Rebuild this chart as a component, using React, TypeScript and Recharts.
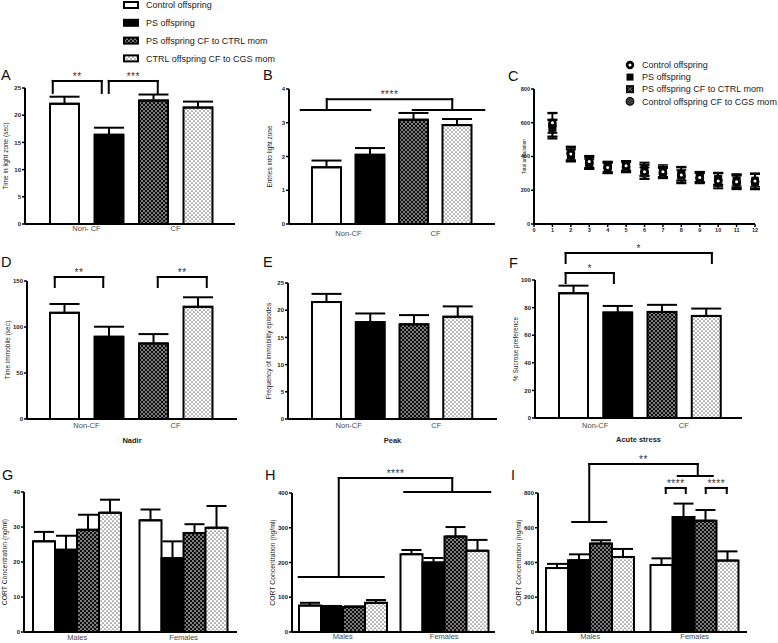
import React from 'react';
import { BarChart, Bar, Cell, XAxis, YAxis, ErrorBar, ReferenceLine, ScatterChart, Scatter } from 'recharts';

const FONT = '"Liberation Sans", Arial, Helvetica, sans-serif';

const GROUPS = ['Control offspring', 'PS offspring', 'PS offspring CF to CTRL mom', 'CTRL offspring CF to CGS mom'];
const C_GROUPS = ['Control offspring', 'PS offspring', 'PS offspring CF to CTRL mom', 'Control offspring CF to CGS mom'];
const BAR_IDS = ['ctrl', 'ps', 'psCf', 'ctrlCf'];
const FILLS = ['#ffffff', '#000000', 'url(#patDark)', 'url(#patLight)'];
const CONDITION = ['Non-CF', 'Non-CF', 'CF', 'CF'];
const CONDITION_A = ['Non- CF', 'Non- CF', 'CF', 'CF'];
const SEXES = ['Males', 'Females'];

// A - light/dark box, time in light zone
const lightTime = [22.1, 16.4, 22.7, 21.4];
const lightTimeErr = [1.3, 1.3, 1.1, 1.1];
// B - entries into light zone
const lightEntries = [1.68, 2.05, 3.09, 2.93];
const lightEntriesErr = [0.2, 0.2, 0.2, 0.18];
// C - total ambulation per time bin
const BINS = [1, 2, 3, 4, 5, 6, 7, 8, 9, 10, 11, 12];
const BIN_TICKS = [0, 1, 2, 3, 4, 5, 6, 7, 8, 9, 10, 11, 12];
const ambCtrl = [600, 415, 370, 335, 345, 310, 310, 290, 275, 255, 250, 255];
const ambCtrlErr = [60, 40, 35, 30, 28, 40, 30, 45, 30, 45, 40, 45];
const ambPs = [570, 405, 355, 330, 340, 320, 305, 300, 280, 270, 260, 260];
const ambPsErr = [50, 35, 30, 30, 30, 35, 30, 40, 30, 35, 35, 40];
const ambPsCf = [560, 410, 365, 340, 345, 325, 315, 295, 280, 265, 255, 250];
const ambPsCfErr = [55, 40, 35, 30, 30, 40, 35, 40, 30, 35, 40, 45];
const ambCtrlCf = [585, 420, 360, 335, 335, 300, 300, 280, 270, 260, 245, 250];
const ambCtrlCfErr = [70, 40, 35, 35, 30, 35, 30, 40, 30, 40, 40, 45];
// D - forced swim, time immobile
const timeImmobile = [115.4, 89.4, 82.2, 121.9];
const timeImmobileErr = [9.6, 10.9, 10.1, 10.4];
// E - frequency of immobility episodes
const immobilityEpisodes = [21.5, 17.8, 17.4, 18.8];
const immobilityEpisodesErr = [1.5, 1.6, 1.7, 1.9];
// F - sucrose preference
const sucrosePref = [90.4, 76.4, 76.9, 74.0];
const sucrosePrefErr = [5.5, 4.8, 5.1, 5.3];
// G - CORT nadir
const nadirMales = [25.9, 23.5, 29.2, 34.1];
const nadirMalesErr = [2.7, 4.0, 4.3, 3.7];
const nadirFemales = [31.9, 21.1, 28.3, 29.8];
const nadirFemalesErr = [3.1, 4.8, 2.5, 6.2];
// H - CORT peak
const peakMales = [76, 72, 72, 84];
const peakMalesErr = [8, 3, 2, 8];
const peakFemales = [224, 200, 275, 234];
const peakFemalesErr = [12, 13, 27, 31];
// I - CORT acute stress
const acuteMales = [368, 413, 509, 432];
const acuteMalesErr = [24, 34, 19, 46];
const acuteFemales = [386, 662, 641, 411];
const acuteFemalesErr = [38, 77, 61, 53];

const AXIS_LINE = { stroke: '#000', strokeWidth: 2 };
const TICK_LINE = { stroke: '#000', strokeWidth: 1.5 };
const NUM_TICK = { fontSize: 6, fontWeight: 700, fill: '#222', stroke: 'none', fontFamily: FONT };
const CAT_TICK = { fontSize: 7.5, fill: '#4a4a4a', stroke: 'none', fontFamily: FONT };
const YW = 40;
const MR = 6;
const SUB_Y = 451;

type Box = { x0: number; y0: number; x1: number; y1: number };
const frame = (b: Box, top: number, bottom: number) => {
  const left = b.x0 - YW;
  const t = b.y0 - top;
  return { left, top: t, width: b.x1 + MR - left, height: b.y1 + bottom - t };
};

const YText = ({ x, y, value, size = 6.5 }: any) => (
  <text x={x} y={y} transform={`rotate(-90 ${x} ${y})`} textAnchor="middle" dominantBaseline="central"
    fontSize={size} fontFamily={FONT} fill="#222">{value}</text>
);
const SubText = ({ x, y, value }: any) => (
  <text x={x} y={y} textAnchor="middle" fontSize={7.5} fontWeight={700} fontFamily={FONT} fill="#222">{value}</text>
);

type End = [string, number, number];
const seg = (key: string, a: End, b: End) => (
  <ReferenceLine key={key} ifOverflow="visible" segment={[{ x: a[0], y: a[1] }, { x: b[0], y: b[1] }]}
    shape={(p: any) => <line x1={p.x1 + a[2]} y1={p.y1} x2={p.x2 + b[2]} y2={p.y2} stroke="#000" strokeWidth={2} strokeLinecap="square" />} />
);
const note = (key: string, a: End, b: End, text: string) => (
  <ReferenceLine key={key} ifOverflow="visible" segment={[{ x: a[0], y: a[1] }, { x: b[0], y: b[1] }]}
    shape={(p: any) => (
      <text x={(p.x1 + a[2] + p.x2 + b[2]) / 2} y={p.y1 - 1} textAnchor="middle" fontSize={10}
        letterSpacing={0.5} fill="#333" fontFamily={FONT}>{text}</text>
    )} />
);
// a[1], b[1] = foot levels, top = bracket level
const bracket = (key: string, a: End, b: End, top: number, text: string) => [
  seg(key + 'l', a, [a[0], top, a[2]]),
  seg(key + 'r', b, [b[0], top, b[2]]),
  seg(key + 't', [a[0], top, a[2]], [b[0], top, b[2]]),
  note(key + 's', [a[0], top, a[2]], [b[0], top, b[2]], text),
];

function CondPanel({ box, vals, errs, cond = CONDITION, max, ticks, pad, yLabel, yLabelX, gap, sub, subDx = 0, children }: any) {
  const MT = 52;
  const XH1 = 2;
  const XH2 = sub ? 44 : 22;
  const f = frame(box, MT, XH1 + XH2);
  const rows = vals.map((v: number, i: number) => ({ id: BAR_IDS[i], cond: cond[i], v, e: [0, errs[i]] }));
  return (
    <div style={{ position: 'absolute', left: f.left, top: f.top }}>
      <BarChart width={f.width} height={f.height} data={rows} margin={{ top: MT, right: MR, left: 0, bottom: 0 }}>
        <XAxis dataKey="id" height={XH1} tick={false} tickLine={false} axisLine={AXIS_LINE} padding={pad} />
        <XAxis xAxisId="g" dataKey="cond" allowDuplicatedCategory={false} height={XH2} axisLine={false}
          tickLine={false} tickSize={0} tickMargin={gap} tick={CAT_TICK} padding={pad}
          label={sub ? <SubText x={(box.x0 + box.x1) / 2 + subDx - f.left} y={SUB_Y - f.top} value={sub} /> : undefined} />
        <YAxis width={YW} domain={[0, max]} ticks={ticks} interval={0} axisLine={AXIS_LINE} tickLine={TICK_LINE}
          tickSize={3} tickMargin={1} tick={NUM_TICK}
          label={<YText x={yLabelX - f.left} y={(box.y0 + box.y1) / 2 - f.top} value={yLabel} />} />
        <Bar dataKey="v" barSize={29} stroke="#000" strokeWidth={2} isAnimationActive={false}>
          {rows.map((r: any, i: number) => <Cell key={r.id} fill={FILLS[i]} />)}
          <ErrorBar dataKey="e" width={15} stroke="#000" strokeWidth={2} isAnimationActive={false} />
        </Bar>
        {children}
      </BarChart>
    </div>
  );
}

const sexRows = (m: number[], me: number[], fv: number[], fe: number[]) =>
  [[m, me], [fv, fe]].map(([v, e], s) => {
    const row: any = { sex: SEXES[s] };
    BAR_IDS.forEach((k, i) => { row[k] = v[i]; row[k + 'E'] = [0, e[i]]; });
    return row;
  });

function SexPanel({ box, rows, max, ticks, yLabel, yLabelX, gap, children }: any) {
  const MT = 44;
  const XH = 20;
  const f = frame(box, MT, XH);
  return (
    <div style={{ position: 'absolute', left: f.left, top: f.top }}>
      <BarChart width={f.width} height={f.height} data={rows} barGap={0} margin={{ top: MT, right: MR, left: 0, bottom: 0 }}>
        <XAxis dataKey="sex" height={XH} axisLine={AXIS_LINE} tickLine={false} tickSize={0} tickMargin={gap} tick={CAT_TICK} />
        <YAxis width={YW} domain={[0, max]} ticks={ticks} interval={0} axisLine={AXIS_LINE} tickLine={TICK_LINE}
          tickSize={3} tickMargin={1} tick={NUM_TICK}
          label={<YText x={yLabelX - f.left} y={(box.y0 + box.y1) / 2 - f.top} value={yLabel} size={6.8} />} />
        {BAR_IDS.map((k, i) => (
          <Bar key={k} dataKey={k} barSize={22} fill={FILLS[i]} stroke="#000" strokeWidth={2} isAnimationActive={false}>
            <ErrorBar dataKey={k + 'E'} width={10} stroke="#000" strokeWidth={2} isAnimationActive={false} />
          </Bar>
        ))}
        {children}
      </BarChart>
    </div>
  );
}

const markCtrl = (p: any) => (
  <g><circle cx={p.cx} cy={p.cy} r={4.2} fill="#000" /><circle cx={p.cx} cy={p.cy} r={1.5} fill="#fff" /></g>
);
const markPs = (p: any) => <rect x={p.cx - 3.5} y={p.cy - 3.5} width={7} height={7} fill="#000" />;
const markPsCf = (p: any) => (
  <g>
    <rect x={p.cx - 3.5} y={p.cy - 3.5} width={7} height={7} fill="#111" stroke="#000" strokeWidth={1} />
    <path d={`M${p.cx - 2},${p.cy - 2}L${p.cx + 2},${p.cy + 2}M${p.cx + 2},${p.cy - 2}L${p.cx - 2},${p.cy + 2}`} stroke="#888" strokeWidth={0.8} />
  </g>
);
const markCtrlCf = (p: any) => <circle cx={p.cx} cy={p.cy} r={3.8} fill="#3a3a3a" stroke="#000" strokeWidth={1.2} />;
const MARKS = [markCtrl, markPs, markPsCf, markCtrlCf];

const ambSeries = [
  [ambCtrl, ambCtrlErr],
  [ambPs, ambPsErr],
  [ambPsCf, ambPsCfErr],
  [ambCtrlCf, ambCtrlCfErr],
].map(([v, e]) => BINS.map((x, i) => ({ x, y: v[i], e: e[i] })));
// drawn back to front so the solid markers end up on top
const DRAW_ORDER = [3, 2, 1, 0];

function AmbulationPanel() {
  const box = { x0: 534, y0: 89, x1: 755, y1: 224 };
  const W0 = 20;
  const MT = 10;
  const XH = 14;
  const left = box.x0 - W0;
  const top = box.y0 - MT;
  const width = box.x1 + 10 - left;
  const height = box.y1 + XH - top;
  const small = { fontSize: 5.5, fontWeight: 700, fill: '#222', stroke: 'none', fontFamily: FONT };
  return (
    <div style={{ position: 'absolute', left, top }}>
      <ScatterChart width={width} height={height} margin={{ top: MT, right: 10, left: 0, bottom: 0 }}>
        <XAxis type="number" dataKey="x" domain={[0, 12]} ticks={BIN_TICKS} interval={0} height={XH}
          axisLine={AXIS_LINE} tickLine={TICK_LINE} tickSize={3} tickMargin={1} tick={small} />
        <YAxis type="number" dataKey="y" domain={[0, 800]} ticks={[0, 200, 400, 600, 800]} interval={0} width={W0}
          axisLine={AXIS_LINE} tickLine={TICK_LINE} tickSize={3} tickMargin={1} tick={small}
          label={<YText x={517 - left} y={(box.y0 + box.y1) / 2 - top - 6} value="Total ambulation" size={4.8} />} />
        {DRAW_ORDER.map((i) => (
          <Scatter key={BAR_IDS[i]} data={ambSeries[i]} shape={MARKS[i]} isAnimationActive={false}>
            <ErrorBar dataKey="e" direction="y" width={5} stroke="#000" strokeWidth={1.5} isAnimationActive={false} />
          </Scatter>
        ))}
      </ScatterChart>
    </div>
  );
}

const LETTERS: [string, number, number][] = [
  ['A', 1, 80], ['B', 263, 80], ['C', 508, 81],
  ['D', 1, 267], ['E', 263, 267], ['F', 509, 268],
  ['G', 2, 480], ['H', 265, 480], ['I', 511, 480],
];

export default function App() {
  return (
    <div style={{ position: 'absolute', left: 0, top: 0, width: 778, height: 643, overflow: 'hidden', background: '#fff', fontFamily: FONT }}>
      <svg width={0} height={0} style={{ position: 'absolute' }}>
        <defs>
          <pattern id="patDark" width={4} height={4} patternUnits="userSpaceOnUse">
            <rect width={4} height={4} fill="#111" />
            <circle cx={1} cy={1} r={0.8} fill="#fff" />
            <circle cx={3} cy={3} r={0.8} fill="#fff" />
          </pattern>
          <pattern id="patLight" width={4} height={4} patternUnits="userSpaceOnUse">
            <rect width={4} height={4} fill="#fff" />
            <circle cx={1} cy={1} r={0.85} fill="#777" />
            <circle cx={3} cy={3} r={0.85} fill="#777" />
          </pattern>
        </defs>
      </svg>

      {/* shared legend */}
      <svg style={{ position: 'absolute', left: 0, top: 0 }} width={340} height={66}>
        {GROUPS.map((g, i) => {
          const yc = 5 + i * 17.8;
          return (
            <g key={g}>
              <rect x={124} y={yc - 3} width={14} height={6} fill={FILLS[i]} stroke="#000" strokeWidth={2} />
              <text x={146} y={yc + 3.2} fontSize={9} fontFamily={FONT} fill="#222">{g}</text>
            </g>
          );
        })}
      </svg>

      <CondPanel box={{ x0: 25, y0: 88, x1: 235, y1: 224 }} vals={lightTime} errs={lightTimeErr} cond={CONDITION_A}
        max={25} ticks={[0, 5, 10, 15, 20, 25]} pad={{ left: 17, right: 15 }} yLabel="Time in light zone (sec)" yLabelX={6} gap={0}>
        {bracket('a1', ['ctrl', 24.1, -11.5], ['ps', 24.1, -7], 26.3, '**')}
        {bracket('a2', ['ps', 24.1, 0], ['psCf', 24.1, 4.5], 26.3, '***')}
      </CondPanel>

      <CondPanel box={{ x0: 289, y0: 89, x1: 495, y1: 224 }} vals={lightEntries} errs={lightEntriesErr}
        max={4} ticks={[0, 1, 2, 3, 4]} pad={{ left: 16, right: 16 }} yLabel="Entries into light zone" yLabelX={273} gap={5}>
        {seg('b1', ['ctrl', 3.38, -26], ['ps', 3.38, 0])}
        {seg('b2', ['psCf', 3.38, -1], ['ctrlCf', 3.38, 27])}
        {bracket('b3', ['ctrl', 3.38, 0], ['ctrlCf', 3.38, -5], 3.7, '****')}
      </CondPanel>

      <AmbulationPanel />

      <svg style={{ position: 'absolute', left: 620, top: 55 }} width={158} height={55}>
        {C_GROUPS.map((g, i) => {
          const yc = 10 + i * 12.1;
          return (
            <g key={g}>
              {MARKS[i]({ cx: 10, cy: yc })}
              <text x={22} y={yc + 3.2} fontSize={9} fontFamily={FONT} fill="#222">{g}</text>
            </g>
          );
        })}
      </svg>

      <CondPanel box={{ x0: 27, y0: 281, x1: 237, y1: 419 }} vals={timeImmobile} errs={timeImmobileErr}
        max={150} ticks={[0, 50, 100, 150]} pad={{ left: 15, right: 17 }} yLabel="Time immobile (sec)" yLabelX={5} gap={1.5}
        sub="Nadir" subDx={-7}>
        {bracket('d1', ['ctrl', 143.5, -9.5], ['ps', 143.5, -5.5], 154.3, '**')}
        {bracket('d2', ['psCf', 143.5, 4.5], ['ctrlCf', 143.5, 9], 154.3, '**')}
      </CondPanel>

      <CondPanel box={{ x0: 288, y0: 283, x1: 497, y1: 419 }} vals={immobilityEpisodes} errs={immobilityEpisodesErr}
        max={25} ticks={[0, 5, 10, 15, 20, 25]} pad={{ left: 17, right: 17 }} yLabel="Frequency of immobility episodes" yLabelX={273} gap={1.5}
        sub="Peak" subDx={3} />

      <CondPanel box={{ x0: 535, y0: 280, x1: 742, y1: 418 }} vals={sucrosePref} errs={sucrosePrefErr}
        max={100} ticks={[0, 20, 40, 60, 80, 100]} pad={{ left: 16, right: 14 }} yLabel="% Sucrose preference" yLabelX={520} gap={2.5}
        sub="Acute stress" subDx={5}>
        {bracket('f1', ['ctrl', 97.8, -7.5], ['ps', 97.8, -3.5], 105, '*')}
        {bracket('f2', ['ctrl', 112.3, -7.5], ['ctrlCf', 112.3, 6], 119.6, '*')}
      </CondPanel>

      <SexPanel box={{ x0: 24, y0: 492, x1: 237, y1: 632 }} rows={sexRows(nadirMales, nadirMalesErr, nadirFemales, nadirFemalesErr)}
        max={40} ticks={[0, 10, 20, 30, 40]} yLabel="CORT Concentration (ng/ml)" yLabelX={15} gap={2.5} />

      <SexPanel box={{ x0: 292, y0: 493, x1: 495, y1: 632 }} rows={sexRows(peakMales, peakMalesErr, peakFemales, peakFemalesErr)}
        max={400} ticks={[0, 100, 200, 300, 400]} yLabel="CORT Concentration (ng/ml)" yLabelX={266} gap={1.5}>
        {seg('h1', ['Males', 158, -44], ['Males', 158, 41])}
        {seg('h2', ['Females', 403, -40], ['Females', 403, 46])}
        {bracket('h3', ['Males', 158, -4], ['Females', 403, 8], 443, '****')}
      </SexPanel>

      <SexPanel box={{ x0: 538, y0: 493, x1: 747, y1: 632 }} rows={sexRows(acuteMales, acuteMalesErr, acuteFemales, acuteFemalesErr)}
        max={800} ticks={[0, 200, 400, 600, 800]} yLabel="CORT Concentration (ng/ml)" yLabelX={515} gap={1.5}>
        {seg('i1', ['Males', 633, -18], ['Males', 633, 16])}
        {seg('i2', ['Females', 898, -17], ['Females', 898, 18])}
        {bracket('i3', ['Males', 633, -1], ['Females', 898, 3], 967, '**')}
        {bracket('i4', ['Females', 800, -29], ['Females', 800, -9], 829, '****')}
        {bracket('i5', ['Females', 800, 11], ['Females', 800, 32], 829, '****')}
      </SexPanel>

      <svg style={{ position: 'absolute', left: 0, top: 0, pointerEvents: 'none' }} width={778} height={643}>
        {LETTERS.map(([t, x, y]) => (
          <text key={t} x={x} y={y} fontSize={14.5} fontFamily={FONT} fill="#111">{t}</text>
        ))}
      </svg>
    </div>
  );
}
